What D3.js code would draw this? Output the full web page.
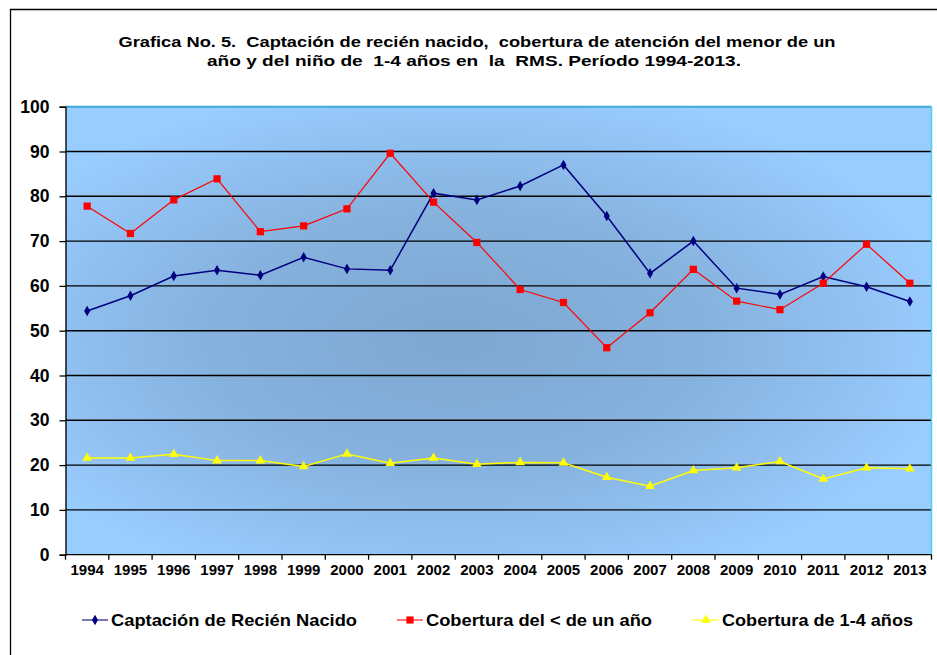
<!DOCTYPE html>
<html>
<head>
<meta charset="utf-8">
<script src="https://cdn.jsdelivr.net/npm/d3@7"></script>
<style>
  body { margin: 0; background: #fff; }
  text { font-family: "Liberation Sans", Arial, sans-serif; font-weight: bold; fill: #000; }
  .title { white-space: pre; }
</style>
</head>
<body>
<div id="chart"></div>
<script>
// Data
// ================================
var years = ["1994", "1995", "1996", "1997", "1998", "1999", "2000", "2001", "2002", "2003",
  "2004", "2005", "2006", "2007", "2008", "2009", "2010", "2011", "2012", "2013"];

var captacion = [54.4, 57.8, 62.2, 63.5, 62.4, 66.4, 63.8, 63.5, 80.7, 79.2,
  82.3, 87.0, 75.6, 62.8, 70.0, 59.5, 58.1, 62.1, 59.8, 56.5];

var coberturaMenor = [77.8, 71.7, 79.2, 83.9, 72.1, 73.4, 77.2, 89.6, 78.7, 69.7,
  59.2, 56.3, 46.2, 54.0, 63.7, 56.6, 54.7, 60.6, 69.3, 60.6];

var cobertura14 = [21.6, 21.6, 22.4, 21.0, 21.0, 19.7, 22.5, 20.4, 21.6, 20.2,
  20.6, 20.5, 17.3, 15.3, 18.8, 19.4, 20.8, 16.9, 19.4, 19.2];

var yTicks = [0, 10, 20, 30, 40, 50, 60, 70, 80, 90, 100];

var seriesNames = ["Captación de Recién Nacido", "Cobertura del < de un año", "Cobertura de 1-4 años"];

// Set up our chart
// ================================
var svgWidth = 937;
var svgHeight = 655;

var margin = { top: 106.7, right: 5.5, bottom: 100.3, left: 65.5 };
var width = svgWidth - margin.left - margin.right;
var height = svgHeight - margin.top - margin.bottom;

var svg = d3.select("#chart").append("svg")
  .attr("width", svgWidth)
  .attr("height", svgHeight);

// radial background for plot area
var defs = svg.append("defs");
var grad = defs.append("radialGradient")
  .attr("id", "bg")
  .attr("cx", "45%").attr("cy", "52%").attr("r", "58%");
grad.append("stop").attr("offset", "0%").attr("stop-color", "#7da7d1");
grad.append("stop").attr("offset", "50%").attr("stop-color", "#86b2de");
grad.append("stop").attr("offset", "100%").attr("stop-color", "#99ccff");

// outer chart border (only top and left visible)
svg.append("path")
  .attr("d", "M10.5,660 L10.5,9.5 L940,9.5")
  .attr("fill", "none")
  .attr("stroke", "#000")
  .attr("stroke-width", 1.3);

// title
var title = svg.append("text")
  .attr("class", "title")
  .attr("text-anchor", "middle")
  .style("font-size", "15.5px");
title.append("tspan").attr("x", 477).attr("y", 47)
  .attr("textLength", 717).attr("lengthAdjust", "spacingAndGlyphs")
  .text("Grafica No. 5.  Captación de recién nacido,  cobertura de atención del menor de un");
title.append("tspan").attr("x", 474).attr("y", 66)
  .attr("textLength", 534).attr("lengthAdjust", "spacingAndGlyphs")
  .text("año y del niño de  1-4 años en  la  RMS. Período 1994-2013.");

var chartGroup = svg.append("g")
  .attr("transform", `translate(${margin.left}, ${margin.top})`);

chartGroup.append("rect")
  .attr("width", width)
  .attr("height", height)
  .attr("fill", "url(#bg)");

// scales
var xScale = d3.scaleBand().domain(years).range([0, width]);
var yScale = d3.scaleLinear().domain([0, 100]).range([height, 0]);

// gridlines
chartGroup.selectAll(".grid")
  .data(yTicks.filter((d) => d > 0 && d < 100))
  .enter()
  .append("line")
  .attr("x1", 0)
  .attr("x2", width)
  .attr("y1", (d) => yScale(d))
  .attr("y2", (d) => yScale(d))
  .attr("stroke", "#000")
  .attr("stroke-width", 1.4);

// plot area border top/right
chartGroup.append("line")
  .attr("x1", 0).attr("x2", width).attr("y1", 0).attr("y2", 0)
  .attr("stroke", "#3fa9d9").attr("stroke-width", 2);
chartGroup.append("line")
  .attr("x1", width).attr("x2", width).attr("y1", 0).attr("y2", height)
  .attr("stroke", "#4fd0f0").attr("stroke-width", 1.5);

// y axis
var leftAxis = d3.axisLeft(yScale).tickValues(yTicks).tickSize(6).tickPadding(10);
var yAxis = chartGroup.append("g").call(leftAxis);
yAxis.select(".domain").attr("stroke", "#000").attr("stroke-width", 1.3);
yAxis.selectAll(".tick line").attr("stroke", "#000").attr("stroke-width", 1.3);
yAxis.selectAll("text")
  .style("font-size", "17.5px")
  .style("font-family", "'Liberation Sans', Arial, sans-serif")
  .style("font-weight", "bold")
  .attr("fill", "#000");

// x axis line and labels
chartGroup.append("line")
  .attr("x1", 0).attr("x2", width).attr("y1", height).attr("y2", height)
  .attr("stroke", "#000").attr("stroke-width", 1.3);

var bottomAxis = d3.axisBottom(xScale).tickSize(0).tickPadding(10);
var xAxis = chartGroup.append("g")
  .attr("transform", `translate(0, ${height})`)
  .call(bottomAxis);
xAxis.select(".domain").remove();
xAxis.selectAll("text")
  .style("font-size", "15px")
  .style("font-family", "'Liberation Sans', Arial, sans-serif")
  .style("font-weight", "bold")
  .attr("fill", "#000");

// x tick marks at category boundaries
chartGroup.selectAll(".xtick")
  .data(years.concat(["end"]))
  .enter()
  .append("line")
  .attr("x1", (d, i) => i * xScale.step())
  .attr("x2", (d, i) => i * xScale.step())
  .attr("y1", height)
  .attr("y2", height + 5)
  .attr("stroke", "#000")
  .attr("stroke-width", 1.3);

// series
var cx = (d, i) => xScale(years[i]) + xScale.bandwidth() / 2;
var lineGen = d3.line().x(cx).y((d) => yScale(d));

var series = [
  { name: seriesNames[0], values: captacion, color: "#000080", width: 1.5, symbol: d3.symbolDiamond, size: 32 },
  { name: seriesNames[1], values: coberturaMenor, color: "#ff0000", width: 1.2, symbol: d3.symbolSquare, size: 52 },
  { name: seriesNames[2], values: cobertura14, color: "#ffff00", width: 1.5, symbol: d3.symbolTriangle, size: 40 },
];

series.forEach(function (s) {
  chartGroup.append("path")
    .datum(s.values)
    .attr("d", lineGen)
    .attr("fill", "none")
    .attr("stroke", s.color)
    .attr("stroke-width", s.width);

  chartGroup.selectAll(null)
    .data(s.values)
    .enter()
    .append("path")
    .attr("d", d3.symbol().type(s.symbol).size(s.size))
    .attr("transform", (d, i) => `translate(${cx(d, i)}, ${yScale(d)})`)
    .attr("fill", s.color);
});

// legend
var legendX = [82, 397, 693];
var legendLen = [246, 226, 191];
var legend = svg.append("g").attr("transform", "translate(0, 620)");
series.forEach(function (s, i) {
  var g = legend.append("g").attr("transform", `translate(${legendX[i]}, 0)`);
  g.append("line")
    .attr("x1", 0).attr("x2", 26)
    .attr("stroke", s.color).attr("stroke-width", 1.5).attr("opacity", 0.7);
  g.append("path")
    .attr("d", d3.symbol().type(s.symbol).size(s.size))
    .attr("transform", "translate(13, 0)")
    .attr("fill", s.color);
  g.append("text")
    .attr("x", 29)
    .attr("y", 6)
    .attr("textLength", legendLen[i])
    .attr("lengthAdjust", "spacingAndGlyphs")
    .style("font-size", "17px")
    .text(s.name);
});
</script>
</body>
</html>
